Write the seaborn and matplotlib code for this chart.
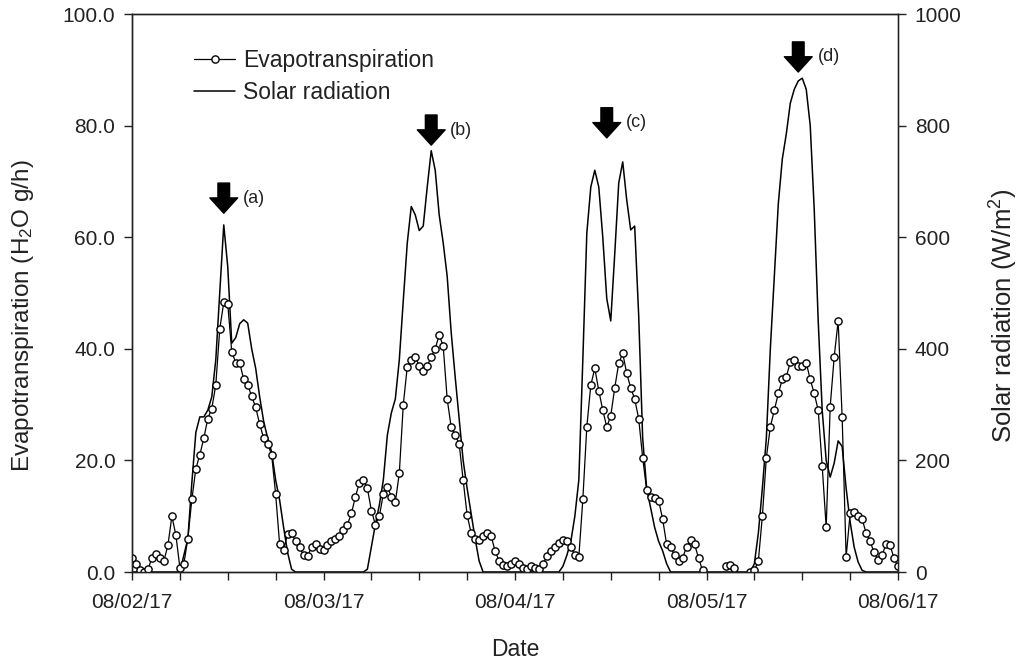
import numpy as np
import pandas as pd
import matplotlib
matplotlib.use("Agg")
import matplotlib.pyplot as plt
import matplotlib.dates as mdates
from matplotlib.ticker import FormatStrFormatter, MultipleLocator
import seaborn as sns

# ---------------- data (30-min readings from 08/02/17 00:00) ----------------
start_time = "2017-08-02 00:00"
interval = "30min"

evapotranspiration = [
    # 08/02
    2.5, 1.5, 0.3, 0.0, 0.5, 2.5, 3.3, 2.5, 2.0, 4.8,
    10.0, 6.6, 0.8, 1.5, 6.0, 13.0, 18.5, 21.0, 24.0, 27.5,
    29.3, 33.5, 43.6, 48.3, 48.0, 39.5, 37.5, 37.5, 34.5, 33.5,
    31.5, 29.5, 26.5, 24.0, 23.0, 21.0, 14.0, 5.0, 4.0, 6.8,
    7.0, 5.5, 4.5, 3.0, 2.8, 4.5, 5.0, 4.2,
    # 08/03
    4.0, 4.8, 5.5, 6.0, 6.5, 7.5, 8.5, 10.5, 13.5, 16.0,
    16.5, 15.0, 11.0, 8.5, 10.0, 14.0, 15.3, 13.5, 12.5, 17.7,
    30.0, 36.8, 38.0, 38.5, 37.0, 36.0, 37.0, 38.5, 40.0, 42.5,
    40.5, 31.0, 26.0, 24.5, 23.0, 16.5, 10.2, 7.0, 6.0, 5.8,
    6.5, 7.0, 6.5, 3.8, 2.0, 1.3, 1.0, 1.5,
    # 08/04
    2.0, 1.5, 0.8, 0.6, 1.0, 0.8, 0.6, 1.5, 2.8, 3.8,
    4.5, 5.2, 5.7, 5.5, 4.5, 3.0, 2.7, 13.0, 26.0, 33.5,
    36.5, 32.5, 29.0, 26.0, 28.0, 33.0, 37.4, 39.2, 35.6, 33.0,
    31.0, 27.5, 20.5, 14.7, 13.5, 13.3, 12.8, 9.5, 5.0, 4.5,
    3.0, 2.0, 2.5, 4.5, 5.7, 5.0, 2.5, 0.3,
    # 08/05 (+ 08/06 00:00)
    np.nan, np.nan, np.nan, np.nan, np.nan, 1.0, 1.3, 0.8, np.nan, np.nan,
    np.nan, 0.0, 0.3, 2.0, 10.0, 20.5, 26.0, 29.0, 32.0, 34.5,
    35.0, 37.6, 38.0, 37.0, 37.0, 37.5, 34.5, 32.0, 29.0, 19.0,
    8.0, 29.6, 38.5, 45.0, 27.8, 2.7, 10.5, 10.8, 10.0, 9.5,
    7.0, 5.5, 3.5, 2.2, 3.0, 5.0, 4.8, 2.5, 1.0,
]

solar_radiation = [
    # 08/02
    0, 0, 0, 0, 0, 0, 0, 0, 0, 0, 0, 0,
    0, 30, 60, 160, 250, 278, 278, 290, 314, 380,
    500, 622, 547, 410, 420, 445, 452, 446, 400, 365,
    314, 270, 240, 215, 165, 129, 80, 35, 5,
    0, 0, 0, 0, 0, 0, 0,
    # 08/03
    0, 0, 0, 0, 0, 0, 0, 0, 0, 0,
    0, 5, 45, 85, 120, 165, 245, 285, 310, 380,
    487, 590, 655, 640, 612, 620, 690, 755, 720, 640,
    590, 530, 430, 350, 275, 200, 150, 105, 60, 20, 0,
    0, 0, 0, 0, 0, 0, 0,
    # 08/04
    0, 0, 0, 0, 0, 0, 0, 0, 0, 0, 0,
    0, 10, 30, 55, 100, 165, 380, 607, 690, 720,
    690, 600, 490, 450, 570, 697, 735, 667, 613, 620,
    460, 240, 150, 115, 80, 55, 38, 15, 0,
    0, 0, 0, 0, 0, 0, 0, 0,
    # 08/05 (+ 08/06 00:00)
    0, 0, 0, 0, 0, 0, 0, 0, 0, 0, 0,
    0, 15, 70, 150, 240, 400, 530, 660, 740, 785,
    840, 865, 880, 885, 865, 800, 650, 450, 290, 200,
    170, 195, 235, 225, 150, 90, 45, 18, 3, 0,
    0, 0, 0, 0, 0, 0, 0, 0,
]

series_labels = ["Evapotranspiration", "Solar radiation"]
event_labels = ["(a)", "(b)", "(c)", "(d)"]
event_times = ["2017-08-02 11:30", "2017-08-03 13:30",
               "2017-08-04 11:30", "2017-08-05 11:30"]

# ---------------- frame ----------------
times = pd.date_range(start_time, periods=len(evapotranspiration), freq=interval)
df = pd.DataFrame({"time": times,
                   "et": evapotranspiration,
                   "solar": solar_radiation})
df["segment"] = df["et"].isna().cumsum()
et_df = df.dropna(subset=["et"])

# ---------------- style ----------------
sns.set_theme(style="ticks")
plt.rcParams["font.family"] = ["Liberation Sans", "DejaVu Sans"]
plt.rcParams["mathtext.fontset"] = "custom"
plt.rcParams["mathtext.rm"] = "Liberation Sans"
plt.rcParams["mathtext.it"] = "Liberation Sans"
text_color = "#222222"
plt.rcParams["text.color"] = text_color
plt.rcParams["axes.labelcolor"] = text_color
plt.rcParams["xtick.color"] = text_color
plt.rcParams["ytick.color"] = text_color

fig = plt.figure(figsize=(10.18, 6.61), dpi=100)
ax = fig.add_axes([132 / 1018, 89 / 661, 766 / 1018, 558 / 661])
ax2 = ax.twinx()

sns.lineplot(data=df, x="time", y="solar", ax=ax2, color="black",
             linewidth=1.1, legend=False)

sns.lineplot(data=et_df, x="time", y="et", units="segment", estimator=None,
             ax=ax, color="black", linewidth=0.9, marker="o", markersize=5.2,
             markerfacecolor="white", markeredgecolor="black",
             markeredgewidth=1.0, legend=False)

ax.set_zorder(ax2.get_zorder() + 1)
ax.patch.set_visible(False)

# ---------------- axes ----------------
x0 = pd.Timestamp(start_time)
ax.set_xlim(x0, x0 + pd.Timedelta(days=4))
ax.set_ylim(0, 100)
ax2.set_ylim(0, 1000)

ax.xaxis.set_major_locator(mdates.DayLocator())
ax.xaxis.set_major_formatter(mdates.DateFormatter("%m/%d/%y"))
ax.xaxis.set_minor_locator(mdates.HourLocator(byhour=[6, 12, 18]))
ax.yaxis.set_major_locator(MultipleLocator(20))
ax.yaxis.set_major_formatter(FormatStrFormatter("%.1f"))
ax2.yaxis.set_major_locator(MultipleLocator(200))

tick_fs = 15
ax.tick_params(axis="x", which="both", direction="out", length=6, width=1,
               labelsize=tick_fs, pad=9)
ax.tick_params(axis="y", direction="out", length=6, width=1,
               labelsize=tick_fs, pad=6)
ax2.tick_params(axis="y", direction="out", length=6, width=1,
                labelsize=tick_fs, pad=6, colors=text_color)

ax.set_xlabel("Date", fontsize=16.5, labelpad=19)
ax.set_ylabel("Evapotranspiration (H$_2$O g/h)", fontsize=17.5)
ax2.set_ylabel("Solar radiation (W/m$^2$)", fontsize=18.5)
ax.yaxis.set_label_coords(-0.125, 0.46)
ax2.yaxis.set_label_coords(1.117, 0.46)

for a in (ax, ax2):
    for side in ("left", "bottom", "top", "right"):
        a.spines[side].set_visible(True)
        a.spines[side].set_linewidth(1.0)
        a.spines[side].set_color("#222222")
ax2.spines["right"].set_color("#666666")

# ---------------- legend ----------------
handles = [ax.lines[0], ax2.lines[0]]
ax.legend(handles, series_labels, loc="upper left",
          bbox_to_anchor=(0.054, 0.975), frameon=False, fontsize=16.5,
          handlelength=1.8, handletextpad=0.36, labelspacing=0.42)

# ---------------- event arrows ----------------
arrow_tops = [69.7, 81.9, 83.2, 95.0]
arrow_len = 5.4
for label, t, top in zip(event_labels, event_times, arrow_tops):
    tt = pd.Timestamp(t)
    ax.annotate("", xy=(tt, top - arrow_len), xytext=(tt, top),
                arrowprops=dict(arrowstyle="simple,head_length=0.55,head_width=1.0,tail_width=0.42",
                                fc="black", ec="black", mutation_scale=20,
                                shrinkA=0, shrinkB=0))
    ax.text(tt + pd.Timedelta(hours=2.4), top - arrow_len / 2, label,
            fontsize=13, va="center", ha="left", color=text_color)

fig.savefig("out.png", dpi=100)
